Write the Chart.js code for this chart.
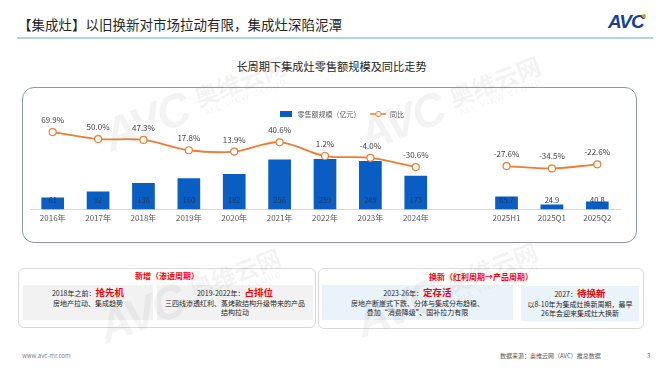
<!DOCTYPE html>
<html>
<head>
<meta charset="utf-8">
<script src="https://cdn.jsdelivr.net/npm/chart.js@4/dist/chart.umd.min.js"></script>
<style>
  body { margin: 0; background: #fff; font-family: 'Noto Sans CJK SC', 'Noto Sans', sans-serif; }
  #page { position: relative; width: 663px; height: 368px; overflow: hidden; }
  .abs { position: absolute; }
  #title { left: 18px; top: 14px; font-size: 13.5px; color: #262626; white-space: nowrap; }
  #logo { left: 608px; top: 11px; font-family: 'Liberation Sans', sans-serif; font-weight: bold; font-style: italic; font-size: 19px; color: #1B3F94; letter-spacing: -1px; }
  #logo i { position: absolute; right: -2px; top: 3px; width: 4px; height: 4px; border-radius: 50%; background: #F39800; }
  #rule { left: 17px; top: 37px; width: 636px; height: 2px; background: #B4D2E2; }
  #subtitle { left: 0; width: 663px; top: 58px; text-align: center; font-size: 11.2px; color: #262626; }
  #panel { left: 22px; top: 87px; width: 613px; height: 154px; border: 1px solid #8D99A6; border-radius: 12px; }
  #chartBox { left: 22px; top: 87px; width: 615px; height: 156px; }
  .box { border: 1px solid #D9D9D9; border-radius: 6px; }
  .boxTitle { color: #FF0000; font-weight: bold; font-size: 8px; text-align: center; white-space: nowrap; }
  .sub { font-size: 7px; line-height: 9.5px; color: #262626; text-align: center; padding-top: 3px; box-sizing: border-box; white-space: nowrap; }
  .sub b { color: #FF0000; font-size: 9.5px; }
  .gray { background: #F2F2F2; }
  .blue { background: #EAF2FA; }
  .foot { font-size: 6px; color: #7F7F7F; white-space: nowrap; }
  .wm { color: rgba(140,140,140,0.10); transform: rotate(-21deg); transform-origin: left center; display: flex; align-items: center; pointer-events: none; white-space: nowrap; }
  .wm .big { font-family: 'Liberation Sans', sans-serif; font-weight: bold; font-style: italic; font-size: 46px; letter-spacing: -2px; }
  .wm .cn { font-size: 24px; font-weight: bold; line-height: 26px; margin-left: 10px; }
  .wm .en { font-family: 'Liberation Sans', sans-serif; font-size: 8px; letter-spacing: 1.5px; margin-left: 14px; }
</style>
</head>
<body>
<div id="page">
  <div id="title" class="abs">【集成灶】以旧换新对市场拉动有限，集成灶深陷泥潭</div>
  <div id="logo" class="abs">AVC<i></i></div>
  <div id="rule" class="abs"></div>
  <div id="subtitle" class="abs">长周期下集成灶零售额规模及同比走势</div>

  <div id="panel" class="abs"></div>
  <div id="chartBox" class="abs"><canvas id="chart" width="615" height="156"></canvas></div>

  <div class="abs box" style="left:18px; top:268px; width:296px; height:58px;"></div>
  <div class="abs boxTitle" style="left:18px; top:270px; width:298px;">新增（渗透周期）</div>
  <div class="abs sub gray" style="left:23px; top:285px; width:130px; height:35px;">2018年之前：<b>抢先机</b><br>房地产拉动、集成趋势</div>
  <div class="abs sub gray" style="left:157px; top:285px; width:156px; height:35px;">2019-2022年：<b>占排位</b><br>三四线渗透红利、蒸烤款结构升级带来的产品<br>结构拉动</div>

  <div class="abs box" style="left:318px; top:268px; width:324px; height:59px;"></div>
  <div class="abs boxTitle" style="left:318px; top:271px; width:326px;">换新（红利周期→产品周期）</div>
  <div class="abs sub blue" style="left:322px; top:285px; width:191px; height:35px;">2023-26年：<b>定存活</b><br>房地产断崖式下跌、分体与集成分布趋稳、<br>叠加“消费降级”、国补拉力有限</div>
  <div class="abs sub blue" style="left:521px; top:286px; width:118px; height:35px;">2027：<b>待换新</b><br>以8-10年为集成灶换新周期，最早<br>26年会迎来集成灶大换新</div>

  <div class="abs foot" style="left:22px; top:351px;">www.avc-mr.com</div>
  <div class="abs foot" style="left:500px; top:351px; color:#595959;">数据来源：奥维云网（AVC）推总数据</div>
  <div class="abs foot" style="left:647px; top:351px; color:#595959;">3</div>

  <div class="abs wm" style="left:105px; top:110px;"><span class="big">AVC</span><span><div class="cn">奥维云网</div><div class="en">ALL VIEW CLOUD</div></span></div>
  <div class="abs wm" style="left:360px; top:110px;"><span class="big">AVC</span><span><div class="cn">奥维云网</div><div class="en">ALL VIEW CLOUD</div></span></div>
  <div class="abs wm" style="left:100px; top:302px;"><span class="big">AVC</span><span><div class="cn">奥维云网</div><div class="en">ALL VIEW CLOUD</div></span></div>
  <div class="abs wm" style="left:357px; top:296px;"><span class="big">AVC</span><span><div class="cn">奥维云网</div><div class="en">ALL VIEW CLOUD</div></span></div>
</div>

<script>
// categories (blank slot separates yearly and 2025 periods)
const categories = ['2016年', '2017年', '2018年', '2019年', '2020年', '2021年', '2022年', '2023年', '2024年', '', '2025H1', '2025Q1', '2025Q2'];
// retail sales, 100 million yuan
const salesValues = [61, 92, 136, 160, 182, 256, 259, 249, 173, null, 65.7, 24.9, 40.8];
// year-on-year change, %
const yoyValues = [69.9, 50.0, 47.3, 17.8, 13.9, 40.6, 1.2, -4.0, -30.6, null, -27.6, -34.5, -22.6];

const BAR_COLOR = '#0A5DC2';
const LINE_COLOR = '#ED7D31';
const FONT = "'Noto Sans CJK SC', 'Noto Sans', sans-serif";

function legendIcon(kind) {
    const c = document.createElement('canvas');
    c.width = 16;
    c.height = 8;
    const g = c.getContext('2d');
    if (kind === 'bar') {
        g.fillStyle = BAR_COLOR;
        g.fillRect(2, 1, 12, 6);
    } else {
        g.strokeStyle = LINE_COLOR;
        g.lineWidth = 1.5;
        g.beginPath();
        g.moveTo(0, 4);
        g.lineTo(16, 4);
        g.stroke();
        g.fillStyle = '#fff';
        g.lineWidth = 1;
        g.beginPath();
        g.arc(8, 4, 2.6, 0, Math.PI * 2);
        g.fill();
        g.stroke();
    }
    return c;
}

// value labels: percentages over the line points, sales near the bar base
const valueLabels = {
    id: 'valueLabels',
    afterLayout(chart) {
        // legend sits a little right of centre in the original
        chart.legend.left += 16;
        chart.legend.right += 16;
    },
    afterDatasetsDraw(chart) {
        const ctx = chart.ctx;
        ctx.save();
        ctx.textAlign = 'center';
        ctx.textBaseline = 'middle';

        const barMeta = chart.getDatasetMeta(0);
        ctx.font = '7.5px ' + FONT;
        ctx.fillStyle = '#22385C';
        barMeta.data.forEach((bar, i) => {
            const v = salesValues[i];
            if (v == null) return;
            const txt = Number.isInteger(v) ? String(v) : v.toFixed(1);
            ctx.fillText(txt, bar.x, bar.base - 9);
        });

        const lineMeta = chart.getDatasetMeta(1);
        ctx.font = '8px ' + FONT;
        ctx.fillStyle = '#404040';
        lineMeta.data.forEach((pt, i) => {
            const v = yoyValues[i];
            if (v == null) return;
            ctx.fillText(v.toFixed(1) + '%', pt.x, pt.y - 12);
        });
        ctx.restore();
    }
};

new Chart(document.getElementById('chart'), {
    type: 'bar',
    data: {
        labels: categories,
        datasets: [
            {
                type: 'bar',
                label: '零售额规模（亿元）',
                data: salesValues,
                backgroundColor: BAR_COLOR,
                yAxisID: 'y',
                order: 1,
                categoryPercentage: 1,
                barPercentage: 0.5
            },
            {
                type: 'line',
                label: '同比',
                data: yoyValues,
                borderColor: LINE_COLOR,
                borderWidth: 1.8,
                tension: 0.35,
                spanGaps: false,
                pointRadius: 3.5,
                pointBackgroundColor: '#fff',
                pointBorderColor: LINE_COLOR,
                pointBorderWidth: 1.2,
                yAxisID: 'y1',
                order: 0
            }
        ]
    },
    options: {
        responsive: false,
        devicePixelRatio: 1,
        animation: false,
        layout: { padding: { left: 8, right: 17, top: 13.5, bottom: 16 } },
        plugins: {
            tooltip: { enabled: false },
            legend: {
                position: 'top',
                labels: {
                    usePointStyle: true,
                    pointStyleWidth: 16,
                    boxHeight: 7,
                    padding: 10,
                    color: '#595959',
                    font: { size: 7, family: FONT },
                    sort: (a, b) => a.datasetIndex - b.datasetIndex,
                    generateLabels(chart) {
                        const items = Chart.defaults.plugins.legend.labels.generateLabels(chart);
                        items.forEach(it => {
                            it.pointStyle = legendIcon(it.datasetIndex === 0 ? 'bar' : 'line');
                        });
                        return items;
                    }
                }
            }
        },
        scales: {
            x: {
                grid: { display: false, drawTicks: false },
                border: { display: true, color: '#D9D9D9' },
                ticks: { color: '#595959', font: { size: 8, family: FONT }, padding: 4, maxRotation: 0, autoSkip: false }
            },
            y: { display: false, min: 0, max: 421 },
            y1: { display: false, min: -152.1, max: 83.1 }
        }
    },
    plugins: [valueLabels]
});
</script>
</body>
</html>
